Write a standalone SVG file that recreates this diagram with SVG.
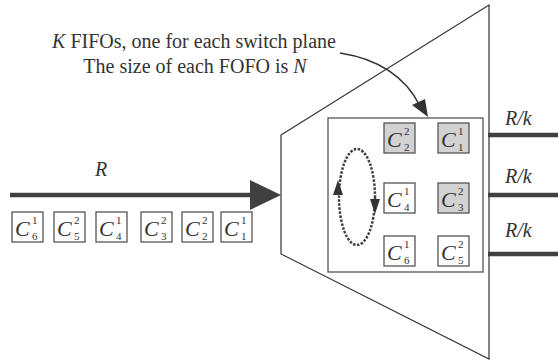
<svg xmlns="http://www.w3.org/2000/svg" width="558" height="360" viewBox="0 0 558 360">
<style>
text{font-family:"Liberation Serif","Times New Roman",serif;fill:#333}
.it{font-style:italic}
.cell{fill:#fff;stroke:#555;stroke-width:1.3}
.g{fill:#d2d2d2}
.c{font-size:22px;font-style:italic}
.s{font-size:11px}
.ln{fill:none;stroke:#333;stroke-width:1.2}
.thick{fill:none;stroke:#404040;stroke-width:4.5}
.lbl{font-size:20px}
</style>
<rect width="558" height="360" fill="#fff"/>
<g id="switch">
<path class="ln" d="M281,135 L489,5 L489,359 L281,254 Z"/>
</g>
<g id="fifo-box">
<rect x="328" y="118" width="155" height="154" fill="#fff" stroke="#555" stroke-width="1.3"/>
</g>
<g id="connectors">
<line class="thick" x1="10" y1="195" x2="252" y2="195"/>
<path d="M250,180 L281,195 L250,210 Z" fill="#404040"/>
<line class="thick" x1="488" y1="135" x2="558" y2="135"/>
<line class="thick" x1="488" y1="195" x2="558" y2="195"/>
<line class="thick" x1="488" y1="254" x2="558" y2="254"/>
<path d="M340,53 Q398,62 420,106" fill="none" stroke="#333" stroke-width="1.5"/>
<path d="M412,105 L428,117 L425,99 Z" fill="#333"/>
<ellipse cx="357" cy="197" rx="18" ry="48" fill="none" stroke="#404040" stroke-width="2.5" stroke-dasharray="2.5,1.5"/>
<path d="M333,195 L338,180 L343,195 Z" fill="#333"/>
<path d="M370,199 L375,214 L380,199 Z" fill="#333"/>
</g>
<g id="labels">
<text class="lbl" x="194" y="48" text-anchor="middle"><tspan class="it">K</tspan> FIFOs, one for each switch plane</text>
<text class="lbl" x="195" y="73" text-anchor="middle">The size of each FOFO is <tspan class="it">N</tspan></text>
<text class="lbl it" x="95" y="176">R</text>
<text class="lbl it" x="505" y="125">R/k</text>
<text class="lbl it" x="505" y="183">R/k</text>
<text class="lbl it" x="505" y="237">R/k</text>
</g>
<g id="queue-in">
<g transform="translate(12,212)"><rect class="cell" width="31" height="30"/><text class="c" x="3" y="24">C</text><text class="s" x="20" y="12">1</text><text class="s" x="20" y="28">6</text></g>
<g transform="translate(54,212)"><rect class="cell" width="31" height="30"/><text class="c" x="3" y="24">C</text><text class="s" x="20" y="12">2</text><text class="s" x="20" y="28">5</text></g>
<g transform="translate(96,212)"><rect class="cell" width="31" height="30"/><text class="c" x="3" y="24">C</text><text class="s" x="20" y="12">1</text><text class="s" x="20" y="28">4</text></g>
<g transform="translate(141,212)"><rect class="cell" width="31" height="30"/><text class="c" x="3" y="24">C</text><text class="s" x="20" y="12">2</text><text class="s" x="20" y="28">3</text></g>
<g transform="translate(182,212)"><rect class="cell" width="31" height="30"/><text class="c" x="3" y="24">C</text><text class="s" x="20" y="12">2</text><text class="s" x="20" y="28">2</text></g>
<g transform="translate(221,212)"><rect class="cell" width="31" height="30"/><text class="c" x="3" y="24">C</text><text class="s" x="20" y="12">1</text><text class="s" x="20" y="28">1</text></g>
</g>
<g id="queue-fifo">
<g transform="translate(384,123)"><rect class="cell g" width="31" height="30"/><text class="c" x="3" y="24">C</text><text class="s" x="20" y="12">2</text><text class="s" x="20" y="28">2</text></g>
<g transform="translate(438,123)"><rect class="cell g" width="31" height="30"/><text class="c" x="3" y="24">C</text><text class="s" x="20" y="12">1</text><text class="s" x="20" y="28">1</text></g>
<g transform="translate(384,183)"><rect class="cell" width="31" height="30"/><text class="c" x="3" y="24">C</text><text class="s" x="20" y="12">1</text><text class="s" x="20" y="28">4</text></g>
<g transform="translate(438,183)"><rect class="cell g" width="31" height="30"/><text class="c" x="3" y="24">C</text><text class="s" x="20" y="12">2</text><text class="s" x="20" y="28">3</text></g>
<g transform="translate(384,236)"><rect class="cell" width="31" height="30"/><text class="c" x="3" y="24">C</text><text class="s" x="20" y="12">1</text><text class="s" x="20" y="28">6</text></g>
<g transform="translate(438,236)"><rect class="cell" width="31" height="30"/><text class="c" x="3" y="24">C</text><text class="s" x="20" y="12">2</text><text class="s" x="20" y="28">5</text></g>
</g>
</svg>
